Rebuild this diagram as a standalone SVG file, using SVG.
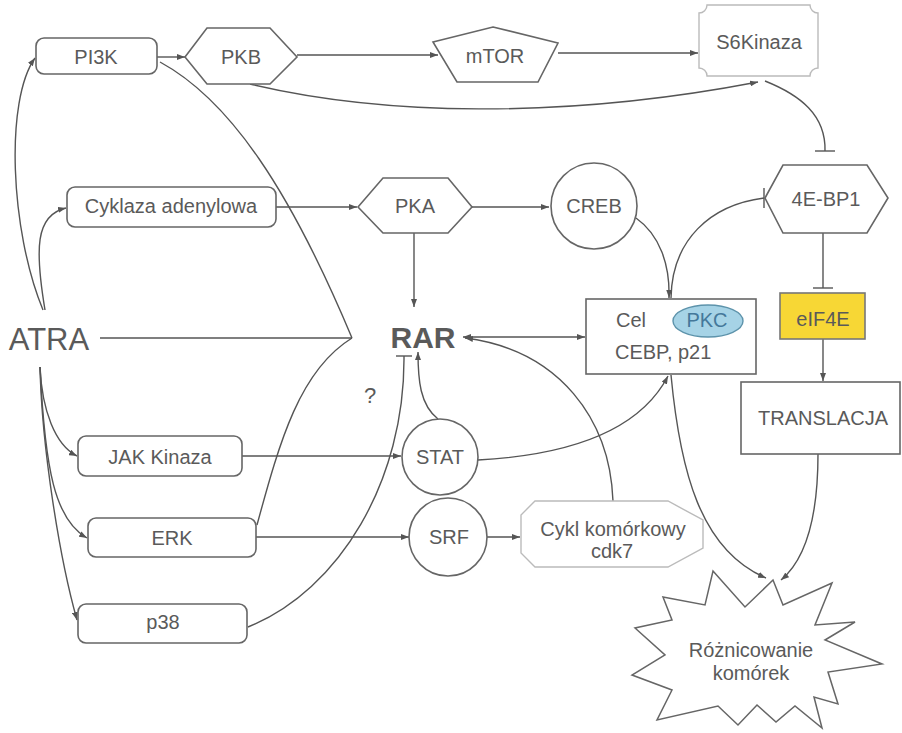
<svg xmlns="http://www.w3.org/2000/svg" width="902" height="733" viewBox="0 0 902 733">
<defs>
<marker id="arr" viewBox="0 0 8 6" refX="8" refY="3" markerWidth="8" markerHeight="6" markerUnits="userSpaceOnUse" orient="auto-start-reverse">
<path d="M0,0 L8,3 L0,6 z" fill="#555"/>
</marker>
<style>
.n{fill:#fff;stroke:#666;stroke-width:1.6}
.lt{fill:#fff;stroke:#bbb;stroke-width:1.4}
.t{font-family:"Liberation Sans",Arial,sans-serif;font-size:20px;fill:#5a5a5a;text-anchor:middle}
.c{fill:none;stroke:#555;stroke-width:1.4}
.a{marker-end:url(#arr)}
</style>
</defs>
<rect width="902" height="733" fill="#fff"/>
<g id="connectors">
<path class="c a" d="M43 310 C10 230 5 100 35 58"/>
<path class="c a" d="M45 310 C35 250 35 215 66 208"/>
<path class="c" d="M100 338 L352 338"/>
<path class="c a" d="M40 367 C42 410 55 445 77 456"/>
<path class="c a" d="M40 367 C45 470 55 520 87 538"/>
<path class="c a" d="M40 367 C42 450 60 560 77 620"/>
<path class="c a" d="M157 57 L185 57"/>
<path class="c a" d="M297 55 L438 55"/>
<path class="c a" d="M558 53 L698 53"/>
<path class="c a" d="M250 84 C380 115 560 120 758 82"/>
<path class="c" d="M160 62 C230 100 290 190 352 338"/>
<path class="c" d="M257 525 C280 440 300 370 352 338"/>
<path class="c a" d="M276 207 L357 207"/>
<path class="c a" d="M472 207 L549 207"/>
<path class="c a" d="M414 233 L414 307"/>
<path class="c a" d="M636 218 C660 235 670 265 669 298"/>
<path class="c" d="M671 298 C672 240 710 205 764 198"/>
<path class="c" d="M764 188 L764 208"/>
<path class="c" d="M765 81 C800 95 826 115 825 151"/>
<path class="c" d="M815 151 L835 151"/>
<path class="c" d="M823 233 L823 288"/>
<path class="c" d="M813 288 L833 288"/>
<path class="c a" d="M823 339 L823 381"/>
<path class="c a" d="M818 454 C818 520 805 560 781 580"/>
<path class="c a" d="M671 375 C680 470 700 550 766 578"/>
<path class="c a" d="M478 460 C570 455 640 430 668 376"/>
<path class="c a" d="M438 419 C420 405 418 380 418 352"/>
<path class="c" d="M248 627 C340 590 405 480 404 356"/>
<path class="c" d="M396 356 L412 356"/>
<path class="c a" d="M242 456 L401 456"/>
<path class="c a" d="M256 537 L409 537"/>
<path class="c a" d="M487 537 L520 537"/>
<path class="c a" d="M613 501 C610 420 560 350 465 338"/>
<path class="c" d="M463 337 L585 337" marker-start="url(#arr)" marker-end="url(#arr)"/>
</g>
<g id="PI3K"><rect class="n" x="36" y="38" width="121" height="36" rx="8"/><text class="t" x="96" y="64">PI3K</text></g>
<g id="PKB"><polygon class="n" points="185,57 207,28 270,28 297,57 270,84 207,84"/><text class="t" x="241" y="64">PKB</text></g>
<g id="mTOR"><polygon class="n" points="493,27 558,43 538,82 457,82 433,42"/><text class="t" x="495" y="63">mTOR</text></g>
<g id="S6Kinaza"><path class="lt" d="M707 5 H810 A8 8 0 0 0 818 13 V68 A8 8 0 0 0 810 76 H707 A8 8 0 0 0 699 68 V13 A8 8 0 0 0 707 5 Z"/><text class="t" x="759" y="49">S6Kinaza</text></g>
<g id="Cyklaza"><rect class="n" x="67" y="187" width="209" height="40" rx="8"/><text class="t" x="171" y="213">Cyklaza adenylowa</text></g>
<g id="PKA"><polygon class="n" points="358,207 383,178 448,178 472,207 448,233 383,233"/><text class="t" x="415" y="213">PKA</text></g>
<g id="CREB"><circle class="n" cx="594" cy="206" r="43"/><text class="t" x="594" y="213">CREB</text></g>
<g id="4E-BP1"><polygon class="n" points="765,198 783,165 867,165 888,198 867,233 783,233"/><text class="t" x="826" y="206">4E-BP1</text></g>
<g id="ATRA"><text class="t" x="49" y="350" style="font-size:31px">ATRA</text></g>
<g id="RAR"><text class="t" x="423" y="348" style="font-size:30px;font-weight:bold">RAR</text></g>
<g id="q"><text class="t" x="370" y="403" style="font-size:22px">?</text></g>
<g id="Cel"><rect class="n" x="586" y="299" width="170" height="75"/>
<ellipse cx="708" cy="321" rx="35" ry="16" fill="#a6d3e6" stroke="#5d93ab" stroke-width="1.4"/>
<text class="t" x="616" y="327" style="text-anchor:start">Cel</text>
<text class="t" x="707" y="327" style="fill:#44789a">PKC</text>
<text class="t" x="615" y="359" style="text-anchor:start">CEBP, p21</text></g>
<g id="eIF4E"><rect x="780" y="293" width="85" height="46" fill="#f7d735" stroke="#777" stroke-width="1.6"/><text class="t" x="823" y="326">eIF4E</text></g>
<g id="TRANSLACJA"><rect class="n" x="741" y="382" width="159" height="72"/><text class="t" x="823" y="425">TRANSLACJA</text></g>
<g id="JAK"><rect class="n" x="78" y="436" width="164" height="40" rx="8"/><text class="t" x="160" y="464">JAK Kinaza</text></g>
<g id="STAT"><circle class="n" cx="440" cy="457" r="38"/><text class="t" x="440" y="464">STAT</text></g>
<g id="ERK"><rect class="n" x="88" y="518" width="168" height="39" rx="8"/><text class="t" x="172" y="545">ERK</text></g>
<g id="SRF"><circle class="n" cx="448" cy="537" r="39"/><text class="t" x="449" y="544">SRF</text></g>
<g id="p38"><rect class="n" x="78" y="604" width="169" height="39" rx="8"/><text class="t" x="163" y="629">p38</text></g>
<g id="Cykl"><polygon class="lt" points="535,501 668,501 703,520 703,548 668,567 535,567 521,553 521,515"/><text class="t" x="613" y="536">Cykl komórkowy</text><text class="t" x="612" y="558">cdk7</text></g>
<g id="Roznicowanie"><polygon class="n" style="stroke-width:1.5" points="713,571 745,607 773,580 783,605 832,583 815,625 855,622 825,640 882,664 828,672 838,704 814,697 822,728 795,706 776,722 757,705 738,725 718,706 657,720 672,690 632,675 665,655 635,628 672,620 663,597 705,605"/><text class="t" x="751" y="657">Różnicowanie</text><text class="t" x="751" y="680">komórek</text></g>
</svg>
